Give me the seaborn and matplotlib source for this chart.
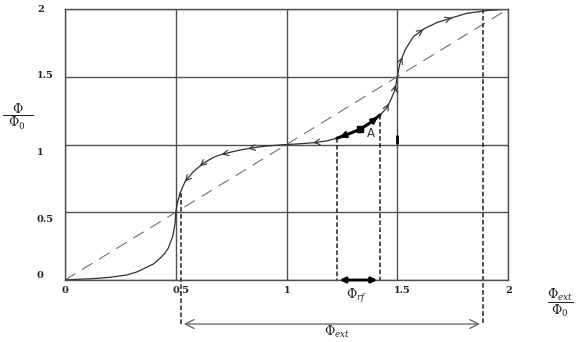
import numpy as np
import matplotlib
matplotlib.use('Agg')
import matplotlib.pyplot as plt
import matplotlib.transforms as mtransforms
import seaborn as sns

# curve Phi/Phi0 vs Phi_ext/Phi0
curve_x = [0.0, 0.053, 0.128, 0.203, 0.279, 0.324, 0.369, 0.399, 0.429, 0.451, 0.466, 0.486,
           0.497, 0.5, 0.507, 0.519, 0.542, 0.579, 0.624, 0.670, 0.700, 0.752, 0.805, 0.865,
           0.911, 1.0, 1.06, 1.121, 1.18, 1.227]
curve_y = [0.0, 0.005, 0.010, 0.020, 0.037, 0.059, 0.094, 0.118, 0.160, 0.197, 0.234, 0.320,
           0.418, 0.5, 0.566, 0.640, 0.726, 0.799, 0.861, 0.905, 0.923, 0.945, 0.964, 0.979,
           0.989, 1.0, 1.005, 1.013, 1.026, 1.046]
upper_x = [1.422, 1.45, 1.467, 1.490, 1.5, 1.512, 1.535, 1.573, 1.625, 1.68, 1.738, 1.814, 1.904, 2.0]
upper_y = [1.218, 1.265, 1.316, 1.402, 1.5, 1.599, 1.697, 1.796, 1.858, 1.90, 1.931, 1.968, 1.988, 2.0]
# thick part of the curve (point A)
thick_x = [1.227, 1.279, 1.332, 1.385, 1.422]
thick_y = [1.046, 1.077, 1.112, 1.168, 1.218]
point_a = (1.332, 1.112)

# small arrowheads on the curve: x position, direction (-1 left, +1 right)
arrow_x = [0.542, 0.609, 0.707, 0.828, 1.12, 1.462, 1.496, 1.527, 1.618, 1.746]
arrow_dir = [-1, -1, -1, -1, -1, 1, 1, 1, 1, 1]

diag = [0, 2]
# vertical dashed guides: x, y_top, y_bottom
guide_x = [0.524, 1.227, 1.422, 1.886]
guide_top = [0.64, 1.046, 1.218, 2.0]
guide_bottom = [-0.33, 0.0, 0.0, -0.33]
ext_y = -0.325

ticks = [0, 0.5, 1, 1.5, 2]
tick_labels = ['0', '0.5', '1', '1.5', '2']
ytick_shift = [-6, 6, 7, -2, -1]   # px, down is positive

sns.set_theme(style='white')
plt.rcParams['mathtext.fontset'] = 'dejavuserif'

fig = plt.figure(figsize=(5.86, 3.42), dpi=100)
ax = fig.add_axes([65 / 586, 1 - 280 / 342, 443 / 586, 271 / 342])
ax.set_xlim(0, 2)
ax.set_ylim(0, 2)

grid_c = '#505050'
ax.set_xticks(ticks)
ax.set_yticks(ticks)
ax.set_xticklabels(tick_labels)
ax.set_yticklabels(tick_labels)
ax.grid(True, color=grid_c, lw=1)
for s in ax.spines.values():
    s.set_color(grid_c)
    s.set_linewidth(1)
ax.tick_params(length=0, labelsize=7, labelcolor='#222222')
ax.tick_params(axis='y', pad=20.2)
ax.tick_params(axis='x', pad=4.0)
for lab in ax.get_xticklabels():
    lab.set_fontfamily('DejaVu Serif')
    lab.set_fontweight('bold')
    lab.set_horizontalalignment('left')
    lab.set_transform(lab.get_transform() + mtransforms.ScaledTranslation(-3 / 100, 0, fig.dpi_scale_trans))
for lab, dy in zip(ax.get_yticklabels(), ytick_shift):
    lab.set_fontfamily('DejaVu Serif')
    lab.set_fontweight('bold')
    lab.set_horizontalalignment('left')
    lab.set_transform(lab.get_transform() + mtransforms.ScaledTranslation(0, -dy / 100, fig.dpi_scale_trans))

# diagonal
sns.lineplot(x=diag, y=diag, ax=ax, color='#707070', lw=0.8, dashes=False,
             linestyle=(0, (11, 7)), estimator=None)

# the curve
curve_c = '#303030'
sns.lineplot(x=curve_x, y=curve_y, ax=ax, sort=False, estimator=None, color=curve_c, lw=0.9)
sns.lineplot(x=upper_x, y=upper_y, ax=ax, sort=False, estimator=None, color=curve_c, lw=0.9)
sns.lineplot(x=thick_x, y=thick_y, ax=ax, sort=False, estimator=None, color='black', lw=2.2)
ax.plot(*point_a, marker='s', ms=4.5, color='black')
ax.annotate('', xy=(thick_x[0], thick_y[0]), xytext=(thick_x[1], thick_y[1]),
            arrowprops=dict(arrowstyle='-|>', color='black', lw=1.8, mutation_scale=9))
ax.annotate('', xy=(thick_x[-1], thick_y[-1]), xytext=(thick_x[-2], thick_y[-2]),
            arrowprops=dict(arrowstyle='-|>', color='black', lw=1.8, mutation_scale=9))
ax.text(1.38, 1.08, 'A', fontsize=8.5, color='#333333', ha='center', va='center')

# arrowheads along the curve
all_x = curve_x + thick_x + upper_x
all_y = curve_y + thick_y + upper_y
order = np.argsort(all_x)
cx = np.array(all_x)[order]
cy = np.array(all_y)[order]
for x, d in zip(arrow_x, arrow_dir):
    x0 = x - d * 0.012
    ax.annotate('', xy=(x, np.interp(x, cx, cy)), xytext=(x0, np.interp(x0, cx, cy)),
                arrowprops=dict(arrowstyle='->', color=curve_c, lw=0.8, mutation_scale=10))

# short mark at x=1.5 near y=1
ax.plot([1.5, 1.5], [1.01, 1.06], color='black', lw=2)

# dashed vertical guides
for x, t, b in zip(guide_x, guide_top, guide_bottom):
    ax.plot([x, x], [t, b], color='#202020', lw=1.1, linestyle=(0, (3, 1.6)), clip_on=False)

# Phi_ext span
ax.annotate('', xy=(guide_x[0], ext_y), xytext=(guide_x[-1], ext_y), annotation_clip=False,
            arrowprops=dict(arrowstyle='<->', color='#606060', lw=0.9, mutation_scale=16))
ax.text(1.227, -0.38, r'$\Phi_{ext}$', fontsize=9, ha='center', va='center', color='#222222')

# Phi_rf span
ax.annotate('', xy=(guide_x[1], 0), xytext=(guide_x[2], 0), annotation_clip=False,
            arrowprops=dict(arrowstyle='<|-|>', color='black', lw=2, mutation_scale=8))
ax.text(1.317, -0.12, r'$\Phi_{rf}$', fontsize=9, ha='center', va='center', color='#222222')

ax.set_xlabel(r'$\dfrac{\Phi_{ext}}{\;\Phi_0\;}$', fontsize=9, color='#222222')
ax.xaxis.set_label_coords(1.117, -0.085)
ax.set_ylabel(r'$\dfrac{\Phi}{\;\;\Phi_0\;\;}$', fontsize=9, color='#222222', rotation=0)
ax.yaxis.set_label_coords(-0.106, 0.60)
ax.xaxis.label.set_verticalalignment('center')
ax.yaxis.label.set_verticalalignment('center')

fig.savefig('out.png', dpi=100)
